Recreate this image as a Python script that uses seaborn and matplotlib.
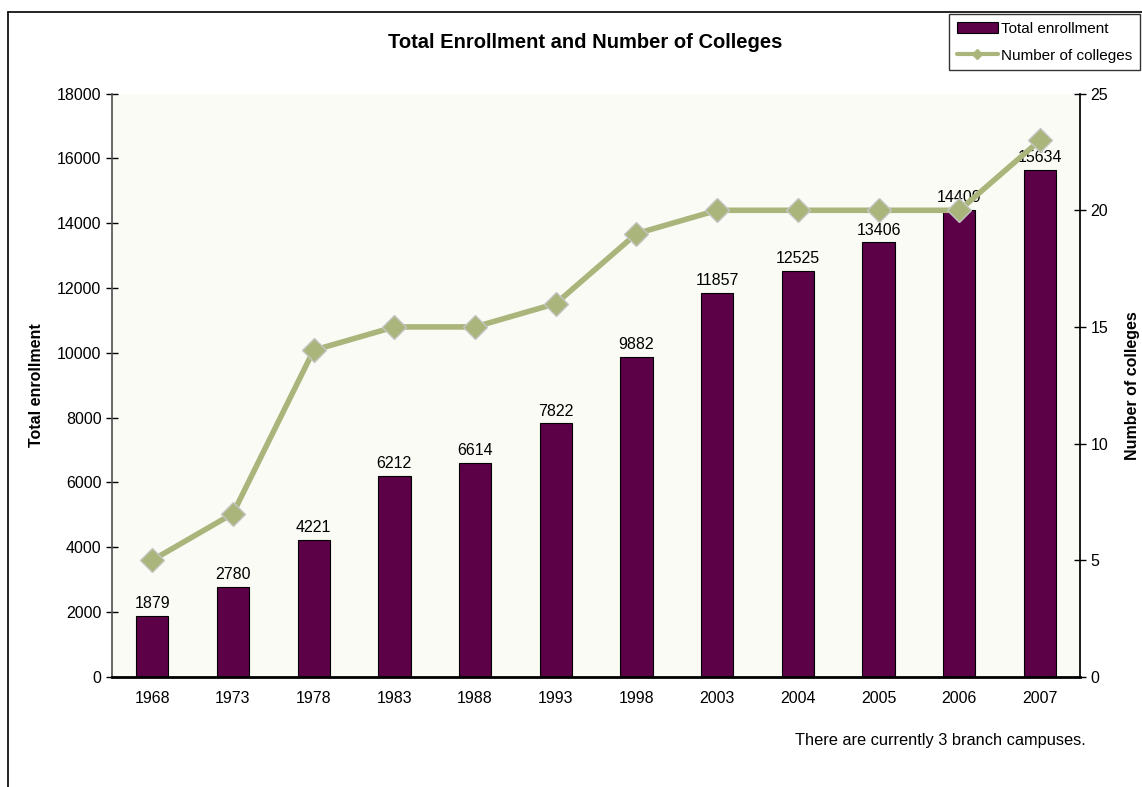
"""Total enrollment and number of colleges, bar + line on twin axes."""

import matplotlib.pyplot as plt
import numpy as np
import pandas as pd
import seaborn as sns
from matplotlib.lines import Line2D
from matplotlib.patches import Patch

years = ["1968", "1973", "1978", "1983", "1988", "1993",
         "1998", "2003", "2004", "2005", "2006", "2007"]
enrollment = [1879, 2780, 4221, 6212, 6614, 7822,
              9882, 11857, 12525, 13406, 14409, 15634]
colleges = [5, 7, 14, 15, 15, 16, 19, 20, 20, 20, 20, 23]

BAR_COLOR = "#5c0048"
LINE_COLOR = "#aab57c"

sns.set_theme(style="white")
plt.rcParams["font.family"] = ["Liberation Sans", "DejaVu Sans"]
plt.rcParams.update({"text.color": "black", "axes.labelcolor": "black",
                     "xtick.color": "black", "ytick.color": "black"})

df = pd.DataFrame({"year": years, "enrollment": enrollment, "colleges": colleges})

fig = plt.figure(figsize=(11.42, 7.87), dpi=100)
ax = fig.add_axes([0.098, 0.14, 0.848, 0.741])
ax.set_facecolor("#fbfbf6")

sns.barplot(data=df, x="year", y="enrollment", color=BAR_COLOR, width=0.4,
            edgecolor="black", linewidth=0.8, saturation=1, ax=ax)
for i, v in enumerate(enrollment):
    ax.text(i, v + 150, str(v), ha="center", va="bottom", fontsize=11.5)

ax.set_ylim(0, 18000)
ax.set_yticks(np.arange(0, 18001, 2000))
ax.set_xlim(-0.5, len(years) - 0.5)
ax.set_xlabel("")
ax.set_ylabel("Total enrollment", fontsize=11.5, fontweight="bold", labelpad=9)

ax2 = ax.twinx()
ax2.plot(np.arange(len(years)), df["colleges"], color=LINE_COLOR, linewidth=4,
         marker="D", markersize=12, markerfacecolor=LINE_COLOR,
         markeredgecolor="#c4c4c4", markeredgewidth=1, zorder=5)
ax2.set_ylim(0, 25)
ax2.set_yticks(np.arange(0, 26, 5))
ax2.set_ylabel("Number of colleges", fontsize=11.5, fontweight="bold", labelpad=12)

for a in (ax, ax2):
    for s in ("top", "right", "left", "bottom"):
        a.spines[s].set_visible(False)
    a.tick_params(axis="both", labelsize=11.5, direction="inout", length=8,
                  width=1, color="black")
ax.spines["left"].set_visible(True)
ax.spines["left"].set_color("#555555")
ax.spines["bottom"].set_visible(True)
ax.spines["bottom"].set_color("black")
ax.spines["bottom"].set_linewidth(2)
ax2.spines["right"].set_visible(True)
ax2.spines["right"].set_color("black")
ax.set_xticks(np.arange(len(years)) + 0.5, minor=True)
ax.tick_params(axis="x", which="major", length=0, pad=10)
ax.tick_params(axis="x", which="minor", direction="inout", length=8, width=1, color="black")
ax.set_xticks(np.arange(len(years)))
ax.set_xticklabels(years)

fig.text(0.512, 0.946, "Total Enrollment and Number of Colleges",
         ha="center", va="center", fontsize=14.5, fontweight="bold")
fig.text(0.951, 0.059, "There are currently 3 branch campuses.",
         ha="right", va="center", fontsize=11.8)

handles = [Patch(facecolor=BAR_COLOR, edgecolor="black", linewidth=0.8),
           Line2D([0], [0], color=LINE_COLOR, linewidth=3, marker="D",
                  markersize=5, markerfacecolor=LINE_COLOR)]
leg = fig.legend(handles, ["Total enrollment", "Number of colleges"],
                 loc="upper right", bbox_to_anchor=(0.998, 0.982),
                 borderaxespad=0, fontsize=11, frameon=True, fancybox=False,
                 handlelength=2.7, handletextpad=0.2, borderpad=0.5,
                 labelspacing=0.85)
leg.get_frame().set_edgecolor("black")
leg.get_frame().set_linewidth(1)

# outer chart border (top and left visible in the original)
fig.add_artist(Line2D([0.007, 0.007], [0.0, 0.985], color="black", linewidth=1.2,
                      transform=fig.transFigure))
fig.add_artist(Line2D([0.007, 1.0], [0.985, 0.985], color="black", linewidth=1.2,
                      transform=fig.transFigure))

fig.savefig("out.png", dpi=100)
